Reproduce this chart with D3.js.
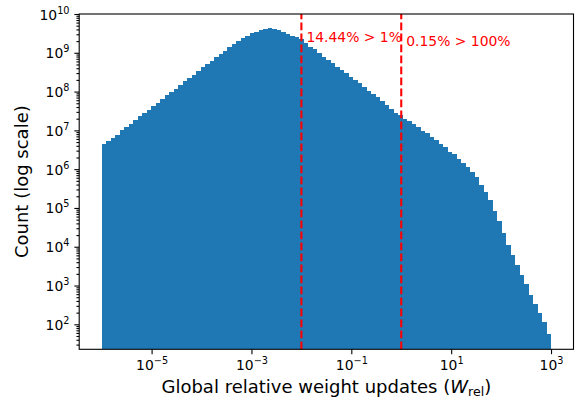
<!DOCTYPE html>
<html><head><meta charset="utf-8">
<script src="https://cdn.jsdelivr.net/npm/d3@7"></script>
<style>body{margin:0;background:#fff}svg{display:block}text{font-family:"DejaVu Sans",sans-serif}</style>
</head><body><svg id="c" width="575" height="401"></svg>
<script>
// histogram counts for 100 log-spaced bins between 1e-6 and 1e3
const counts = [
 4.37e6,5.32e6,6.35e6,7.74e6,9.98e6,1.20e7,1.46e7,1.85e7,2.30e7,2.86e7,
 3.42e7,4.25e7,5.18e7,6.56e7,8.00e7,9.75e7,1.19e8,1.51e8,1.84e8,2.24e8,
 2.73e8,3.46e8,4.22e8,5.25e8,6.27e8,7.78e8,9.48e8,1.14e9,1.38e9,1.69e9,
 2.05e9,2.36e9,2.76e9,3.18e9,3.51e9,3.87e9,4.10e9,4.28e9,4.10e9,3.87e9,
 3.51e9,3.11e9,2.71e9,2.51e9,2.22e9,1.82e9,1.44e9,1.23e9,9.68e8,7.94e8,
 6.52e8,5.35e8,4.39e8,3.60e8,2.95e8,2.42e8,1.99e8,1.63e8,1.29e8,1.06e8,
 8.67e7,7.11e7,5.61e7,4.60e7,3.63e7,2.86e7,2.44e7,1.96e7,1.71e7,1.46e7,
 1.20e7,9.82e6,8.39e6,6.89e6,5.65e6,4.46e6,3.66e6,2.82e6,2.41e6,1.83e6,
 1.41e6,1.11e6,8.28e5,6.15e5,3.89e5,2.57e5,1.57e5,8.51e4,4.52e4,2.31e4,
 1.13e4,6.01e3,3.45e3,1.91e3,1.09e3,578,333,200,115,56
];
const binRange = [1e-6, 1e3];
const thresholds = [1e-2, 1];
const annotations = ["14.44% > 1%", "0.15% > 100%"];
const annotationX = [1.26e-2, 1.26];
const annotationY = [1.86e9, 1.52e9];
const xTickExps = [-5, -3, -1, 1, 3];
const yTickExps = [2, 3, 4, 5, 6, 7, 8, 9, 10];
const xLabelMain = "Global relative weight updates (";
const yLabel = "Count (log scale)";

const svg = d3.select("#c");
const L = 79.2, R = 573.5, T = 14, B = 349.3;
const x = d3.scaleLog().domain([Math.pow(10, -6.45), Math.pow(10, 3.45)]).range([L, R]);
const y = d3.scaleLog().domain([Math.pow(10, 1.356), 1e10]).range([B, T]);

const lx = d3.scaleLinear().domain([0, counts.length])
  .range([Math.log10(binRange[0]), Math.log10(binRange[1])]);
const bins = counts.map((c, i) => ({x0: Math.pow(10, lx(i)), x1: Math.pow(10, lx(i + 1)), c}));

svg.append("g").attr("shape-rendering", "crispEdges")
  .selectAll("rect").data(bins).join("rect")
  .attr("x", d => x(d.x0))
  .attr("width", d => x(d.x1) - x(d.x0))
  .attr("y", d => y(d.c))
  .attr("height", d => B - y(d.c))
  .attr("fill", "#1f77b4");

// threshold lines
svg.append("g").selectAll("line").data(thresholds).join("line")
  .attr("x1", d => x(d)).attr("x2", d => x(d))
  .attr("y1", B).attr("y2", T)
  .attr("stroke", "#ff0000").attr("stroke-width", 2.08)
  .attr("stroke-dasharray", "7.7,3.3");

svg.append("g").selectAll("text").data(annotations).join("text")
  .attr("x", (d, i) => x(annotationX[i]))
  .attr("y", (d, i) => y(annotationY[i]))
  .attr("fill", "#ff0000").attr("font-size", 13.9)
  .text(d => d);

// minor tick values
const yMinor = [];
for (let e = 1; e <= 9; e++) for (let m = 2; m <= 9; m++) {
  const v = m * Math.pow(10, e);
  if (v >= y.domain()[0] && v <= 1e10) yMinor.push(v);
}
const xMinor = [];
for (let e = -7; e <= 3; e++) for (let m = 2; m <= 9; m++) {
  const v = m * Math.pow(10, e);
  if (v >= x.domain()[0] && v <= x.domain()[1]) xMinor.push(v);
}

function supLabels(g, exps) {
  g.selectAll(".tick text").each(function(d, i) {
    const t = d3.select(this);
    t.text(null);
    t.append("tspan").text("10");
    t.append("tspan").attr("dy", -6).attr("font-size", 9.7)
      .text(String(exps[i]).replace("-", "\u2212"));
  });
}

const gy = svg.append("g").attr("transform", `translate(${L},0)`)
  .call(d3.axisLeft(y).tickValues(yTickExps.map(e => Math.pow(10, e)))
    .tickSize(4.86).tickPadding(4.86).tickFormat(() => ""));
gy.call(supLabels, yTickExps);
gy.selectAll(".tick text").attr("font-size", 13.9).attr("fill", "#000").attr("dy", "0.36em");
svg.append("g").attr("transform", `translate(${L},0)`)
  .call(d3.axisLeft(y).tickValues(yMinor).tickSize(2.78).tickFormat(() => ""));

const gx = svg.append("g").attr("transform", `translate(0,${B})`)
  .call(d3.axisBottom(x).tickValues(xTickExps.map(e => Math.pow(10, e)))
    .tickSize(4.86).tickPadding(6).tickFormat(() => ""));
gx.call(supLabels, xTickExps);
gx.selectAll(".tick text").attr("font-size", 13.9).attr("fill", "#000");

svg.selectAll(".domain").remove();
svg.selectAll(".tick line").attr("stroke", "#000").attr("stroke-width", 1.1);

// frame
svg.append("rect").attr("x", L).attr("y", T).attr("width", R - L).attr("height", B - T)
  .attr("fill", "none").attr("stroke", "#000").attr("stroke-width", 1.1);

// axis labels
const xl = svg.append("text").attr("x", (L + R) / 2).attr("y", 393)
  .attr("text-anchor", "middle").attr("font-size", 18).attr("fill", "#000");
xl.append("tspan").text(xLabelMain);
xl.append("tspan").attr("font-style", "italic").text("W");
xl.append("tspan").attr("font-size", 12.6).attr("dy", 3).text("rel");
xl.append("tspan").attr("dy", -3).text(")");

svg.append("text").attr("transform", `translate(28,${(T + B) / 2}) rotate(-90)`)
  .attr("text-anchor", "middle").attr("font-size", 18).attr("fill", "#000")
  .text(yLabel);
</script></body></html>
